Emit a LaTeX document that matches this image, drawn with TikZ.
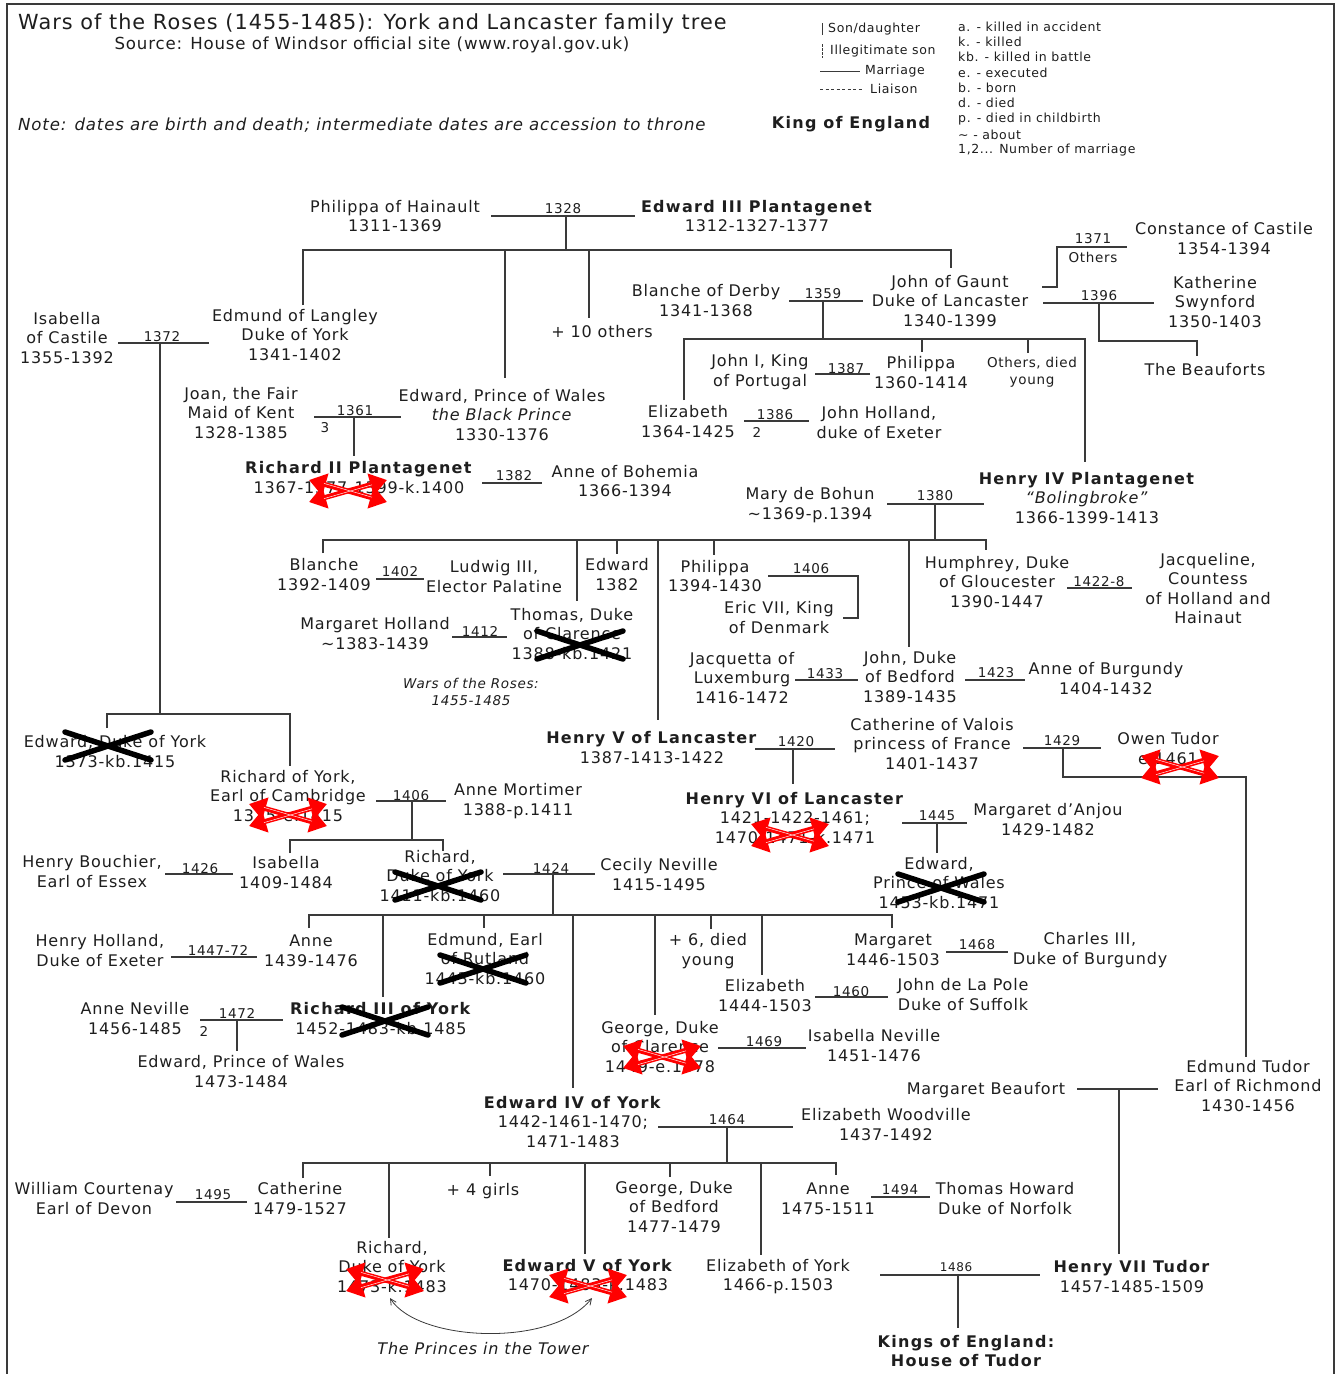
\documentclass[tikz,border=0pt]{standalone}
\usepackage{fontspec}
\setmainfont{DejaVu Sans}[LetterSpace=5, BoldFeatures={LetterSpace=8}]
\usetikzlibrary{arrows.meta}
\definecolor{ink}{HTML}{1E1E1E}
\definecolor{lncol}{HTML}{3A3A3A}
\newcommand\fN{\fontsize{16}{19.5}\selectfont}
\newcommand\fY{\fontsize{13.5}{17}\selectfont}
\newcommand\fL{\fontsize{12.5}{15}\selectfont}
\newcommand\fT{\fontsize{20.8}{24}\selectfont}
\newcommand\fH{\fontsize{16.6}{20}\selectfont}
\tikzset{
  p/.style={align=center, inner sep=0pt, font=\fN, text=ink, yshift=-1.5pt,
            execute at begin node=\strut, execute at end node=\strut},
  ps/.style={p, font=\fY},
  plain/.style={inner sep=0pt, text=ink},
  yr/.style={inner sep=0pt, font=\fY, text=ink},
  ln/.style={draw=lncol, line width=1.4pt},
  bx/.style={draw=black, line width=5.5pt, line cap=round},
  rx/.style={draw=red, line width=5pt, {Triangle[length=17pt,width=22pt]}-{Triangle[length=17pt,width=22pt]}},
  rxw/.style={draw=white, line width=0.45pt},
}
\newcommand\redx[2]{%
  \begin{scope}[shift={(#1,#2)}]
    \draw[rx] (-39,-11) -- (39,11);
    \draw[rx] (-39,11) -- (39,-11);
    \draw[rxw] (-24,-7.6) -- (24,6.2);
    \draw[rxw] (-24,7.6) -- (24,-6.2);
  \end{scope}}
\newcommand\blackx[2]{%
  \begin{scope}[shift={(#1,#2)}]
    \draw[bx] (-43,-14) -- (43,14);
    \draw[bx] (-43,14) -- (43,-14);
  \end{scope}}
\begin{document}
\begin{tikzpicture}[x=1pt,y=-1pt]
\useasboundingbox (0,0) rectangle (1341,1374);
\fill[white] (0,0) rectangle (1341,1374);
% frame
\draw[draw=lncol, line width=1.6pt] (7,1380) -- (7,4) -- (1334,4) -- (1334,1380);

% ---------- header ----------
\node[plain, font=\fT, anchor=west] (title) at (18,24) {Wars of the Roses (1455-1485): York and Lancaster family tree};
\node[plain, font=\fH] (source) at (372,45) {Source: House of Windsor official site (www.royal.gov.uk)};
\node[plain, font=\fH\itshape, anchor=west] (note) at (18,125) {Note: dates are birth and death; intermediate dates are accession to throne};
\node[plain, font=\fN\bfseries] (kingeng) at (851,124) {King of England};

\draw[ln, line width=1pt] (822,23) -- (822,35);
\node[plain, font=\fL, anchor=west] (lg1) at (828,29) {Son/daughter};
\draw[ln, line width=1pt, dash pattern=on 2.5pt off 1.5pt] (822,44) -- (822,58);
\node[plain, font=\fL, anchor=west] (lg2) at (830,51) {Illegitimate son};
\draw[ln, line width=1pt] (820,71) -- (860,71);
\node[plain, font=\fL, anchor=west] (lg3) at (865,71) {Marriage};
\draw[ln, line width=1pt, dash pattern=on 3pt off 2.5pt] (820,89) -- (862,89);
\node[plain, font=\fL, anchor=west] (lg4) at (870,89) {Liaison};

\node[plain, font=\fL, anchor=west] (k1) at (958,27) {a. - killed in accident};
\node[plain, font=\fL, anchor=west] (k2) at (958,42) {k. - killed};
\node[plain, font=\fL, anchor=west] (k3) at (958,57) {kb. - killed in battle};
\node[plain, font=\fL, anchor=west] (k4) at (958,73) {e. - executed};
\node[plain, font=\fL, anchor=west] (k5) at (958,88) {b. - born};
\node[plain, font=\fL, anchor=west] (k6) at (958,103) {d. - died};
\node[plain, font=\fL, anchor=west] (k7) at (958,119) {p. - died in childbirth};
\node[plain, font=\fL, anchor=west] (k8) at (958,135) {\textasciitilde\ - about};
\node[plain, font=\fL, anchor=west] (k9) at (958,150) {1,2... Number of marriage};

% ---------- people ----------
\node[p] (philippa) at (395,217.5) {Philippa of Hainault\\1311-1369};
\node[p] (edw3) at (757,217.5) {\textbf{Edward III Plantagenet}\\1312-1327-1377};
\node[p] (isabellaC) at (67,339) {Isabella\\of Castile\\1355-1392};
\node[p] (edmundL) at (295,336) {Edmund of Langley\\Duke of York\\1341-1402};
\node[p] (plus10) at (602,332) {+ 10 others};
\node[p] (blancheD) at (706,302) {Blanche of Derby\\1341-1368};
\node[p] (gaunt) at (950,302) {John of Gaunt\\Duke of Lancaster\\1340-1399};
\node[p] (constance) at (1224,240) {Constance of Castile\\1354-1394};
\node[p] (katherine) at (1215,303) {Katherine\\Swynford\\1350-1403};
\node[p] (beauforts) at (1205,370) {The Beauforts};
\node[p] (joan) at (241,414) {Joan, the Fair\\Maid of Kent\\1328-1385};
\node[p] (blackprince) at (502,416) {Edward, Prince of Wales\\\textit{the Black Prince}\\1330-1376};
\node[p] (richard2) at (359,479) {\textbf{Richard II Plantagenet}\\1367-1377-1399-k.1400};
\node[p] (anneB) at (625,482.5) {Anne of Bohemia\\1366-1394};
\node[p] (johnI) at (760,372) {John I, King\\of Portugal};
\node[p] (philippaL) at (921,374) {Philippa\\1360-1414};
\node[ps] (othersdied) at (1032,372) {Others, died\\young};
\node[p] (elizabethL) at (688,423) {Elizabeth\\1364-1425};
\node[p] (johnholland) at (879,424) {John Holland,\\duke of Exeter};
\node[p] (henry4) at (1087,499) {\textbf{Henry IV Plantagenet}\\\textit{“Bolingbroke”}\\1366-1399-1413};
\node[p] (mary) at (810,505) {Mary de Bohun\\\textasciitilde1369-p.1394};
\node[p] (blancheH) at (324,576) {Blanche\\1392-1409};
\node[p] (ludwig) at (494,578) {Ludwig III,\\Elector Palatine};
\node[p] (edwardH) at (617,576) {Edward\\1382};
\node[p] (thomas) at (572,635) {Thomas, Duke\\of Clarence\\1388-kb.1421};
\node[p] (margH) at (375,635) {Margaret Holland\\\textasciitilde1383-1439};
\node[p] (philippaH) at (715,577.5) {Philippa\\1394-1430};
\node[p] (eric) at (779,619) {Eric VII, King\\of Denmark};
\node[p] (humphrey) at (997,583) {Humphrey, Duke\\of Gloucester\\1390-1447};
\node[p] (jacqueline) at (1208,590) {Jacqueline,\\Countess\\of Holland and\\Hainaut};
\node[p] (johnB) at (910,678) {John, Duke\\of Bedford\\1389-1435};
\node[p] (anneBur) at (1106,680) {Anne of Burgundy\\1404-1432};
\node[p] (jacquetta) at (742,679) {Jacquetta of\\Luxemburg\\1416-1472};
\node[ps, font=\fY\itshape] (warsnote) at (471,693) {Wars of the Roses:\\1455-1485};
\node[p] (henry5) at (652,749) {\textbf{Henry V of Lancaster}\\1387-1413-1422};
\node[p] (catherineV) at (932,745) {Catherine of Valois\\princess of France\\1401-1437};
\node[p] (owen) at (1168,750) {Owen Tudor\\e.1461};
\node[p] (henry6) at (795,819) {\textbf{Henry VI of Lancaster}\\1421-1422-1461;\\1470-1471-k.1471};
\node[p] (margAnjou) at (1048,821) {Margaret d’Anjou\\1429-1482};
\node[p] (edwardPW) at (939,884) {Edward,\\Prince of Wales\\1453-kb.1471};
\node[p] (edwardDY) at (115,753) {Edward, Duke of York\\1373-kb.1415};
\node[p] (richardC) at (288,797) {Richard of York,\\Earl of Cambridge\\1375-e.1415};
\node[p] (anneM) at (518,801) {Anne Mortimer\\1388-p.1411};
\node[p] (isabellaY) at (286,874) {Isabella\\1409-1484};
\node[p] (bouchier) at (92,873) {Henry Bouchier,\\Earl of Essex};
\node[p] (richardY) at (440,877) {Richard,\\Duke of York\\1411-kb.1460};
\node[p] (cecily) at (659,876) {Cecily Neville\\1415-1495};
\node[p] (anneY) at (311,952) {Anne\\1439-1476};
\node[p] (hollandH) at (100,952) {Henry Holland,\\Duke of Exeter};
\node[p] (edmundR) at (485,960) {Edmund, Earl\\of Rutland\\1443-kb.1460};
\node[p] (richard3) at (381,1020) {\textbf{Richard III of York}\\1452-1483-kb.1485};
\node[p] (anneN) at (135,1020) {Anne Neville\\1456-1485};
\node[p] (edwardPW2) at (241,1073) {Edward, Prince of Wales\\1473-1484};
\node[p] (plus6) at (708,951) {+ 6, died\\young};
\node[p] (george) at (660,1048) {George, Duke\\of Clarence\\1449-e.1478};
\node[p] (isabellaN) at (874,1047) {Isabella Neville\\1451-1476};
\node[p] (elizabethY) at (765,997) {Elizabeth\\1444-1503};
\node[p] (johnPole) at (963,996) {John de La Pole\\Duke of Suffolk};
\node[p] (margaretY) at (893,951) {Margaret\\1446-1503};
\node[p] (charles) at (1090,950) {Charles III,\\Duke of Burgundy};
\node[p] (edward4) at (573,1123) {\textbf{Edward IV of York}\\1442-1461-1470;\\1471-1483};
\node[p] (woodville) at (886,1126) {Elizabeth Woodville\\1437-1492};
\node[p] (catherineY) at (300,1200) {Catherine\\1479-1527};
\node[p] (courtenay) at (94,1200) {William Courtenay\\Earl of Devon};
\node[p] (richardP) at (392,1268) {Richard,\\Duke of York\\1473-k.1483};
\node[p] (girls) at (483,1190) {+ 4 girls};
\node[p] (edward5) at (588,1276.5) {\textbf{Edward V of York}\\1470-1483-k.1483};
\node[p] (georgeB) at (674,1208) {George, Duke\\of Bedford\\1477-1479};
\node[p] (elizYork) at (778,1276.5) {Elizabeth of York\\1466-p.1503};
\node[p] (anneY2) at (828,1200) {Anne\\1475-1511};
\node[p] (howard) at (1005,1200) {Thomas Howard\\Duke of Norfolk};
\node[p, font=\fN\itshape] (princes) at (483,1349) {The Princes in the Tower};
\node[p] (edmundT) at (1248,1087) {Edmund Tudor\\Earl of Richmond\\1430-1456};
\node[p] (margBeaufort) at (986,1089) {Margaret Beaufort};
\node[p] (henry7) at (1132,1278) {\textbf{Henry VII Tudor}\\1457-1485-1509};
\node[p, font=\fN\bfseries] (kingsTudor) at (966,1352.5) {Kings of England:\\House of Tudor};

% ---------- marriage years ----------
\node[yr] (y1328) at (563,209) {1328};
\node[yr] (y1372) at (162,337) {1372};
\node[yr] (y1361) at (355,411) {1361};
\node[yr] (n3) at (325,428) {3};
\node[yr] (y1382) at (514,476) {1382};
\node[yr] (y1359) at (823,294) {1359};
\node[yr] (y1371) at (1093,239) {1371};
\node[yr] (others1371) at (1093,257) {Others};
\node[yr] (y1396) at (1099,296) {1396};
\node[yr] (y1387) at (846,369) {1387};
\node[yr] (y1386) at (775,415) {1386};
\node[yr] (n2a) at (757,432) {2};
\node[yr] (y1380) at (935,496) {1380};
\node[yr] (y1402) at (400,572) {1402};
\node[yr] (y1412) at (480,631) {1412};
\node[yr] (y1406a) at (811,569) {1406};
\node[yr] (y1422) at (1099,582) {1422-8};
\node[yr] (y1433) at (825,674) {1433};
\node[yr] (y1423) at (996,673) {1423};
\node[yr] (y1420) at (796,742) {1420};
\node[yr] (y1429) at (1062,741) {1429};
\node[yr] (y1445) at (937,816) {1445};
\node[yr] (y1406b) at (411,796) {1406};
\node[yr] (y1426) at (200,869) {1426};
\node[yr] (y1424) at (551,868) {1424};
\node[yr] (y1447) at (218,950) {1447-72};
\node[yr] (y1472) at (237,1013) {1472};
\node[yr] (n2b) at (204,1031) {2};
\node[yr] (y1469) at (764,1042) {1469};
\node[yr] (y1460) at (851,992) {1460};
\node[yr] (y1468) at (977,945) {1468};
\node[yr] (y1464) at (727,1120) {1464};
\node[yr] (y1495) at (213,1195) {1495};
\node[yr] (y1494) at (900,1190) {1494};
\node[yr, font=\fontsize{12}{14}\selectfont] (y1486) at (956,1267) {1486};

% ---------- lines ----------
\draw[ln] (491,216) -- (635,216);
\draw[ln] (566,216) -- (566,250);
\draw[ln] (303,305) -- (303,250) -- (951,250) -- (951,268);
\draw[ln] (505,250) -- (505,378);
\draw[ln] (589,250) -- (589,318);

\draw[ln] (118,343) -- (209,343);
\draw[ln] (160,343) -- (160,714);
\draw[ln] (107,728) -- (107,714) -- (290,714) -- (290,766);

\draw[ln] (314,417) -- (401,417);
\draw[ln] (354,417) -- (354,456);
\draw[ln] (482,483) -- (542,483);

\draw[ln] (789,301) -- (863,301);
\draw[ln] (823,301) -- (823,339);
\draw[ln] (684,400) -- (684,339) -- (1085,339) -- (1085,462);
\draw[ln] (922,339) -- (922,352);
\draw[ln] (1028,339) -- (1028,353);
\draw[ln] (1042,287) -- (1057,287) -- (1057,247) -- (1127,247);
\draw[ln] (1043,303) -- (1154,303);
\draw[ln] (1099,303) -- (1099,341) -- (1197,341) -- (1197,356);
\draw[ln] (815,374) -- (870,374);
\draw[ln] (744,421) -- (809,421);

\draw[ln] (887,504) -- (984,504);
\draw[ln] (935,504) -- (935,540);
\draw[ln] (323,553) -- (323,540) -- (986,540) -- (986,550);
\draw[ln] (577,540) -- (577,601);
\draw[ln] (617,540) -- (617,554);
\draw[ln] (658,540) -- (658,720);
\draw[ln] (714,540) -- (714,555);
\draw[ln] (909,540) -- (909,647);
\draw[ln] (376,579) -- (424,579);
\draw[ln] (452,637) -- (507,637);
\draw[ln] (768,576) -- (858,576) -- (858,618) -- (843,618);
\draw[ln] (1067,588) -- (1132,588);
\draw[ln] (965,680) -- (1025,680);
\draw[ln] (795,680) -- (858,680);

\draw[ln] (755,749) -- (835,749);
\draw[ln] (793,749) -- (793,784);
\draw[ln] (1023,748) -- (1101,748);
\draw[ln] (1063,748) -- (1063,777) -- (1246,777) -- (1246,1057);
\draw[ln] (902,823) -- (967,823);
\draw[ln] (937,823) -- (937,853);

\draw[ln] (376,801) -- (446,801);
\draw[ln] (412,801) -- (412,840);
\draw[ln] (290,853) -- (290,840) -- (443,840) -- (443,851);
\draw[ln] (165,874) -- (233,874);
\draw[ln] (503,874) -- (595,874);
\draw[ln] (553,874) -- (553,915);
\draw[ln] (309,928) -- (309,915) -- (892,915) -- (892,928);
\draw[ln] (383,915) -- (383,997);
\draw[ln] (484,915) -- (484,928);
\draw[ln] (573,915) -- (573,1088);
\draw[ln] (655,915) -- (655,1015);
\draw[ln] (711,915) -- (711,929);
\draw[ln] (762,915) -- (762,975);
\draw[ln] (171,957) -- (257,957);
\draw[ln] (200,1020) -- (283,1020);
\draw[ln] (237,1020) -- (237,1051);
\draw[ln] (815,997) -- (888,997);
\draw[ln] (946,952) -- (1008,952);
\draw[ln] (718,1048) -- (806,1048);

\draw[ln] (658,1127) -- (793,1127);
\draw[ln] (727,1127) -- (727,1163);
\draw[ln] (303,1178) -- (303,1163) -- (836,1163) -- (836,1175);
\draw[ln] (389,1163) -- (389,1238);
\draw[ln] (490,1163) -- (490,1176);
\draw[ln] (585,1163) -- (585,1254);
\draw[ln] (670,1163) -- (670,1177);
\draw[ln] (761,1163) -- (761,1255);
\draw[ln] (176,1202) -- (247,1202);
\draw[ln] (871,1197) -- (930,1197);

\draw[ln] (1077,1089) -- (1158,1089);
\draw[ln] (1119,1089) -- (1119,1254);
\draw[ln] (880,1275) -- (1040,1275);
\draw[ln] (958,1275) -- (958,1328);

\draw[draw=lncol, line width=0.8pt, {Straight Barb[length=6pt,width=6pt]}-{Straight Barb[length=6pt,width=6pt]}]
  (390,1298) .. controls (418,1342) and (552,1348) .. (592,1298);

% ---------- crosses ----------
\blackx{108}{746}
\blackx{580}{645}
\blackx{438}{886}
\blackx{483}{969}
\blackx{385}{1021}
\blackx{941}{888}
\redx{348}{491}
\redx{288}{815}
\redx{790}{835}
\redx{1180}{767}
\redx{662}{1057}
\redx{385}{1280}
\redx{588}{1286}
\end{tikzpicture}
\end{document}
